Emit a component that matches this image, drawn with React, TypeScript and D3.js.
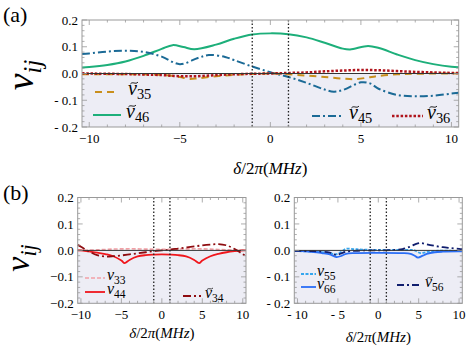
import React from "react";
import * as d3 from "d3";

// ---------- data ----------
const xA46 = [-10.4,-10,-9,-8,-7,-6,-5.4,-4.8,-4.2,-3,-2,-1,0,1,2,3,4,4.4,5.4,6,7,8,9,10,10.4];
const nu46 = [0.022,0.024,0.032,0.045,0.066,0.092,0.106,0.099,0.091,0.108,0.13,0.146,0.15,0.147,0.135,0.115,0.093,0.09,0.103,0.095,0.071,0.05,0.035,0.025,0.023];

const xA45 = [-10.4,-10,-9,-8,-7,-6,-5,-4,-3.4,-2.5,-2,-1,0,1,2,3,3.5,4,5,5.5,6,7,8,9,10,10.4];
const nu45 = [0.073,0.075,0.082,0.085,0.081,0.063,0.035,0.058,0.069,0.062,0.05,0.026,0.005,-0.013,-0.035,-0.06,-0.068,-0.062,-0.033,-0.037,-0.058,-0.08,-0.085,-0.083,-0.075,-0.072];

const xA35 = [-10.4,-10,-8,-6,-5,-4.5,-4,-3,-2,-1,0,1,2,3,4,4.7,5.5,6,7,8,10,10.4];
const nu35 = [-0.003,-0.003,-0.003,-0.005,-0.013,-0.02,-0.018,-0.01,-0.005,-0.002,0,-0.003,-0.008,-0.013,-0.019,-0.021,-0.014,-0.009,-0.003,-0.001,0,0];

const xA36 = [-10.4,-10,-8,-6,-5,-4,-3,-2,-1,0,1,2,3,4,5,6,7,8,9,10,10.4];
const nu36 = [0.001,0,-0.002,-0.006,-0.01,-0.01,-0.006,-0.003,-0.001,0,0.002,0.004,0.008,0.011,0.013,0.012,0.009,0.006,0.004,0.002,0.002];

const xB33 = [-10.4,-10,-8,-6,-4,-2,0,2,4,6,8,10,10.4];
const nu33 = [0,0,0.002,0.005,0.006,0.005,0.004,0.005,0.006,0.005,0.002,0,0];

const xB44 = [-10.4,-10,-9,-8,-7,-6,-5,-4.6,-4,-3,-2,-1,0,1,2,3,4,4.6,5,6,7,8,9,10,10.4];
const nu44 = [0,0,-0.004,-0.008,-0.014,-0.022,-0.038,-0.048,-0.036,-0.023,-0.018,-0.016,-0.015,-0.016,-0.018,-0.023,-0.036,-0.048,-0.038,-0.022,-0.013,-0.007,-0.003,0,0];

const xB34 = [-10.4,-10,-9,-8,-7,-6,-5,-4,-3,-2,-1,0,1,2,3,4,5,6,7,8,9,10,10.4];
const nu34 = [0.021,0.014,-0.004,-0.018,-0.023,-0.022,-0.019,-0.015,-0.011,-0.007,-0.003,0,0.003,0.007,0.011,0.015,0.019,0.022,0.024,0.019,0.005,-0.014,-0.021];

const xB55 = [-10.4,-10,-8,-6,-5.3,-4.5,-4,-3,-2,0,2,3,4,4.5,5.2,6,7,8,10,10.4];
const nu55 = [-0.003,-0.003,-0.005,-0.01,-0.015,-0.004,0.006,0.005,0.003,0.002,0.002,0.002,0.002,0,-0.01,-0.006,-0.002,-0.001,-0.002,-0.002];

const xB66 = [-10.4,-10,-8,-7,-6,-5.2,-4.5,-4,-3,0,3,4,4.5,4.9,5.5,6,7,8,10,10.4];
const nu66 = [-0.002,-0.002,-0.006,-0.01,-0.015,-0.025,-0.02,-0.013,-0.01,-0.009,-0.01,-0.013,-0.02,-0.027,-0.02,-0.013,-0.007,-0.005,-0.004,-0.004];

const xB56 = [-10.4,-10,-8,-6,-5.2,-4.5,-4,-3,-2,0,2,3,4,4.7,5.3,6,7,8,9,10,10.4];
const nu56 = [-0.002,-0.002,-0.003,-0.008,-0.017,-0.01,-0.005,-0.002,0,0,0.002,0.005,0.015,0.025,0.028,0.023,0.017,0.012,0.009,0.006,0.005];

const xTicks = [-10, -5, 0, 5, 10];
const yTicks = [-0.2, -0.1, 0, 0.1, 0.2];
const yTickLabelsSpaced = ["- 0.2", "- 0.1", "0.0", "0.1", "0.2"];
const yTickLabelsTight = ["\u22120.2", "\u22120.1", "0.0", "0.1", "0.2"];
const xTickLabelsTight = ["\u221210", "\u22125", "0", "5", "10"];
const xTickLabelsSpaced = ["- 10", "- 5", "0", "5", "10"];

const SERIF = '"Liberation Serif"';
const FS = { fontFamily: SERIF };

type Series = { x: number[]; y: number[]; color: string; dash?: string; width: number };
type Leg = { sub: string; tilde: boolean; color: string; dash?: string; width: number; x0: number; x1: number; y: number; tx: number };

function NuLabel({ x, y, sub, tilde, size }: { x: number; y: number; sub: string; tilde: boolean; size: number }) {
  const tx0 = x + size * 0.12;
  const tx1 = x + size * 0.5;
  const ty = y - size * 0.6;
  const a = size * 0.05;
  const w = tx1 - tx0;
  return (
    <g>
      <text x={x} y={y} style={FS} fontStyle="italic" fontSize={size}>
        ν<tspan fontStyle="normal" fontSize={size * 0.72} dy={size * 0.22}>{sub}</tspan>
      </text>
      {tilde && (
        <path d={`M${tx0},${ty + a} C${tx0 + w * 0.3},${ty - 2 * a} ${tx0 + w * 0.7},${ty + 2 * a} ${tx1},${ty - a}`} fill="none" stroke="#111" strokeWidth={size * 0.05} />
      )}
    </g>
  );
}

function Panel(props: {
  left: number; right: number; top: number; bottom: number;
  series: Series[]; legends: Leg[];
  yLabels: string[]; xLabels: string[];
  tickFont: number; xLabelY: number; xLabelSize: number; legSize: number;
}) {
  const { left, right, top, bottom, series, legends, yLabels, xLabels, tickFont, xLabelY, xLabelSize, legSize } = props;
  const x = d3.scaleLinear().domain([-10.4, 10.4]).range([left, right]);
  const y = d3.scaleLinear().domain([-0.2, 0.2]).range([bottom, top]);
  const line = d3.line<[number, number]>().x(d => x(d[0])).y(d => y(d[1])).curve(d3.curveCatmullRom.alpha(0.5));
  const xMinor = d3.range(-10, 10.01, 1);
  const yMinor = d3.range(-0.2, 0.2001, 0.02);
  const frameCol = "#999";
  return (
    <g>
      <rect x={left} y={y(0)} width={right - left} height={bottom - y(0)} fill="#ededf5" />
      {series.map((s, i) => (
        <path key={i} d={line(s.x.map((v, j) => [v, s.y[j]] as [number, number])) || ""} fill="none" stroke={s.color} strokeWidth={s.width} strokeDasharray={s.dash} />
      ))}
      <line x1={left} x2={right} y1={y(0)} y2={y(0)} stroke="#333" strokeWidth={1} />
      {[-1, 1].map(v => (
        <line key={v} x1={x(v)} x2={x(v)} y1={top} y2={bottom} stroke="#222" strokeWidth={1.3} strokeDasharray="1.5,2" />
      ))}
      {xMinor.map(v => {
        const major = Math.abs(v % 5) < 1e-6;
        const l = major ? 5 : 2.5;
        return (
          <g key={"xt" + v}>
            <line x1={x(v)} x2={x(v)} y1={bottom} y2={bottom - l} stroke={frameCol} strokeWidth={0.8} />
            <line x1={x(v)} x2={x(v)} y1={top} y2={top + l} stroke={frameCol} strokeWidth={0.8} />
          </g>
        );
      })}
      {yMinor.map((v, i) => {
        const major = i % 5 === 0;
        const l = major ? 5 : 2.5;
        return (
          <g key={"yt" + i}>
            <line x1={left} x2={left + l} y1={y(v)} y2={y(v)} stroke={frameCol} strokeWidth={0.8} />
            <line x1={right} x2={right - l} y1={y(v)} y2={y(v)} stroke={frameCol} strokeWidth={0.8} />
          </g>
        );
      })}
      <rect x={left} y={top} width={right - left} height={bottom - top} fill="none" stroke={frameCol} strokeWidth={1} />
      {yTicks.map((v, i) => (
        <text key={"yl" + i} x={left - 4} y={y(v) + tickFont * 0.35} textAnchor="end" style={FS} fontSize={tickFont}>{yLabels[i]}</text>
      ))}
      {xTicks.map((v, i) => (
        <text key={"xl" + i} x={x(v)} y={bottom + tickFont + 3} textAnchor="middle" style={FS} fontSize={tickFont}>{xLabels[i]}</text>
      ))}
      <text x={(left + right) / 2} y={xLabelY} textAnchor="middle" style={FS} fontSize={xLabelSize}>
        <tspan fontStyle="italic">δ</tspan>/2<tspan fontStyle="italic">π</tspan>(<tspan fontStyle="italic">MHz</tspan>)
      </text>
      {legends.map((g, i) => (
        <g key={"lg" + i}>
          <line x1={g.x0} x2={g.x1} y1={g.y} y2={g.y} stroke={g.color} strokeWidth={g.width} strokeDasharray={g.dash} />
          <NuLabel x={g.tx} y={g.y + legSize * 0.15} sub={g.sub} tilde={g.tilde} size={legSize} />
        </g>
      ))}
    </g>
  );
}

function YLabel({ cx, cy, size }: { cx: number; cy: number; size: number }) {
  return (
    <text transform={`translate(${cx},${cy}) rotate(-90)`} textAnchor="middle" style={FS} fontStyle="italic" fontSize={size}>
      ν<tspan fontSize={size * 0.65} dy={size * 0.2}>ij</tspan>
    </text>
  );
}

export default function App() {
  const cA = { green: "#1daf7a", blue: "#1b6a96", orange: "#c98f1c", red: "#b0141c" };
  const cB = { pink: "#f2a0a6", red: "#f0161c", dred: "#8e0c10", lblue: "#34a6ee", blue: "#2a6ef6", navy: "#101e6e" };
  return (
    <svg width={469} height={352} style={{ position: "absolute", left: 0, top: 0, background: "#fff", fontFamily: SERIF }}>
      <text x={3} y={22} style={FS} fontSize={22}>(a)</text>
      <text x={3} y={200} style={FS} fontSize={22}>(b)</text>
      <YLabel cx={33} cy={75} size={38} />
      <YLabel cx={29} cy={258} size={34} />
      <Panel left={82} right={458.7} top={20} bottom={127}
        series={[
          { x: xA46, y: nu46, color: cA.green, width: 2 },
          { x: xA45, y: nu45, color: cA.blue, width: 2, dash: "8,3,2,3" },
          { x: xA35, y: nu35, color: cA.orange, width: 2, dash: "7,5" },
          { x: xA36, y: nu36, color: cA.red, width: 2.5, dash: "2.5,1.8" },
        ]}
        legends={[
          { sub: "35", tilde: true, color: cA.orange, dash: "7,5", width: 2, x0: 95, x1: 119, y: 92, tx: 128 },
          { sub: "46", tilde: true, color: cA.green, width: 2, x0: 93, x1: 121, y: 115, tx: 126 },
          { sub: "45", tilde: true, color: cA.blue, dash: "8,3,2,3", width: 2, x0: 312, x1: 342, y: 116, tx: 349 },
          { sub: "36", tilde: true, color: cA.red, dash: "2.5,1.8", width: 2.5, x0: 392, x1: 423, y: 116, tx: 427 },
        ]}
        yLabels={yTickLabelsSpaced} xLabels={xTickLabelsTight}
        tickFont={13} xLabelY={174} xLabelSize={17} legSize={20} />
      <Panel left={77.7} right={246} top={197.5} bottom={303.3}
        series={[
          { x: xB33, y: nu33, color: cB.pink, width: 1.6, dash: "4,2" },
          { x: xB44, y: nu44, color: cB.red, width: 1.8 },
          { x: xB34, y: nu34, color: cB.dred, width: 1.8, dash: "8,3,2,3" },
        ]}
        legends={[
          { sub: "33", tilde: false, color: cB.pink, dash: "4,2", width: 1.6, x0: 85, x1: 105, y: 278, tx: 107 },
          { sub: "44", tilde: false, color: cB.red, width: 1.8, x0: 85, x1: 105, y: 292, tx: 107 },
          { sub: "34", tilde: true, color: cB.dred, dash: "8,3,2,3", width: 1.8, x0: 183, x1: 201, y: 296, tx: 205 },
        ]}
        yLabels={yTickLabelsTight} xLabels={xTickLabelsTight}
        tickFont={13} xLabelY={338} xLabelSize={15} legSize={16} />
      <Panel left={294.3} right={462.3} top={197.5} bottom={303.3}
        series={[
          { x: xB55, y: nu55, color: cB.lblue, width: 1.8, dash: "3,1.5" },
          { x: xB66, y: nu66, color: cB.blue, width: 1.8 },
          { x: xB56, y: nu56, color: cB.navy, width: 1.8, dash: "7,3,2,3" },
        ]}
        legends={[
          { sub: "55", tilde: false, color: cB.lblue, dash: "3,1.5", width: 1.8, x0: 301, x1: 316, y: 274, tx: 317 },
          { sub: "66", tilde: false, color: cB.blue, width: 1.8, x0: 301, x1: 316, y: 287, tx: 317 },
          { sub: "56", tilde: true, color: cB.navy, dash: "7,3,2,3", width: 1.8, x0: 397, x1: 421, y: 285, tx: 425 },
        ]}
        yLabels={yTickLabelsSpaced} xLabels={xTickLabelsSpaced}
        tickFont={13} xLabelY={342} xLabelSize={15} legSize={16} />
    </svg>
  );
}
